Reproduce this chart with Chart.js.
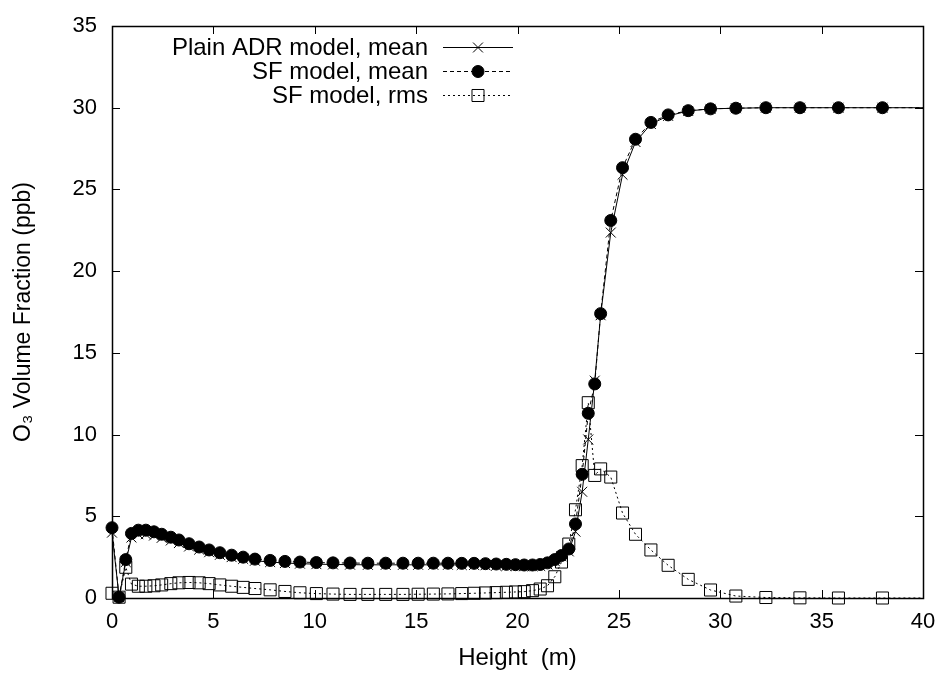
<!DOCTYPE html>
<html><head><meta charset="utf-8">
<script src="https://cdn.jsdelivr.net/npm/chart.js@4/dist/chart.umd.min.js"></script>
<style>html,body{margin:0;padding:0;background:#fff}</style>
</head><body>
<canvas id="c" width="948" height="687"></canvas>
<script>
// ---- data ----
const heights = [0, 0.35, 0.68, 0.96, 1.3, 1.67, 2.07, 2.45, 2.9, 3.3, 3.8, 4.3, 4.79, 5.32, 5.9, 6.47, 7.05,
  7.8, 8.53, 9.27, 10.08, 10.9, 11.74, 12.62, 13.5, 14.35, 15.1, 15.85, 16.57, 17.25, 17.86, 18.42, 18.95,
  19.45, 19.9, 20.33, 20.74, 21.12, 21.48, 21.84, 22.17, 22.53, 22.86, 23.19, 23.49, 23.81, 24.1, 24.6,
  25.18, 25.82, 26.58, 27.43, 28.42, 29.52, 30.77, 32.25, 33.93, 35.83, 38.0, 40];
const plainAdrMean = [4.0, 0.05, 2.2, 3.7, 3.9, 3.9, 3.82, 3.68, 3.52, 3.36, 3.15, 2.96, 2.8, 2.64, 2.5, 2.39, 2.28,
  2.2, 2.14, 2.1, 2.07, 2.05, 2.04, 2.03, 2.03, 2.03, 2.03, 2.03, 2.03, 2.02, 2.02, 2.0, 1.98,
  1.96, 1.95, 1.94, 1.94, 1.96, 2.05, 2.25, 2.55, 2.85, 4.06, 6.5, 9.7, 13.3, 17.3, 22.36,
  25.9, 27.9, 29.0, 29.5, 29.8, 29.93, 29.97, 30.0, 30.0, 30.0, 30.0, 30.0];
const sfMean = [4.3, 0.05, 2.35, 3.95, 4.15, 4.15, 4.05, 3.9, 3.72, 3.55, 3.32, 3.12, 2.94, 2.77, 2.62, 2.5, 2.38,
  2.3, 2.24, 2.2, 2.17, 2.15, 2.14, 2.13, 2.13, 2.13, 2.13, 2.13, 2.13, 2.12, 2.12, 2.1, 2.08,
  2.06, 2.04, 2.02, 2.02, 2.05, 2.15, 2.35, 2.6, 3.0, 4.53, 7.57, 11.3, 13.1, 17.4, 23.1,
  26.33, 28.07, 29.1, 29.56, 29.82, 29.93, 29.97, 30.0, 30.0, 30.0, 30.0, 30.0];
const sfRms = [0.29, 0.05, 1.88, 0.85, 0.72, 0.72, 0.75, 0.8, 0.88, 0.93, 0.95, 0.93, 0.88, 0.8, 0.72, 0.65, 0.58,
  0.5, 0.4, 0.32, 0.27, 0.24, 0.22, 0.22, 0.22, 0.22, 0.23, 0.24, 0.25, 0.27, 0.29, 0.31, 0.33,
  0.35, 0.37, 0.39, 0.45, 0.55, 0.75, 1.3, 2.2, 3.3, 5.4, 8.1, 11.95, 7.5, 7.9, 7.4,
  5.2, 3.9, 2.94, 2.0, 1.14, 0.49, 0.12, 0.03, 0.01, 0.0, 0.0, 0.0];
const seriesLabels = ['Plain ADR model, mean', 'SF model, mean', 'SF model, rms'];
const xTickValues = [0, 5, 10, 15, 20, 25, 30, 35, 40];
const yTickValues = [0, 5, 10, 15, 20, 25, 30, 35];
const xTitle = 'Height  (m)';
const yTitle = 'O\u2083 Volume Fraction (ppb)';

// ---- styles ----
const FONT = "'Liberation Sans', Arial, Helvetica, sans-serif";
const styles = [
  {pointStyle: 'crossRot', radius: 7, dash: [], fill: 'rgba(0,0,0,0)'},
  {pointStyle: 'circle', radius: 6, dash: [4, 3], fill: '#000'},
  {pointStyle: 'rect', radius: 8.5, dash: [2, 3], fill: 'rgba(0,0,0,0)'}
];
const seriesValues = [plainAdrMean, sfMean, sfRms];
const xMax = xTickValues[xTickValues.length - 1];

const datasets = seriesValues.map((vals, i) => ({
  label: seriesLabels[i],
  data: heights.map((h, k) => ({x: h, y: vals[k]})),
  borderColor: '#000',
  borderWidth: 1,
  borderDash: styles[i].dash,
  backgroundColor: styles[i].fill,
  pointStyle: styles[i].pointStyle,
  pointRadius: c => (c.raw && c.raw.x >= xMax ? 0 : styles[i].radius),
  pointBorderColor: '#000',
  pointBackgroundColor: styles[i].fill,
  pointBorderWidth: 1,
  tension: 0,
  clip: false,
  order: 2 - i
}));

const framePlugin = {
  id: 'frame',
  beforeDatasetsDraw(chart) {
    const {ctx, chartArea: a, scales: {x, y}} = chart;
    ctx.save();
    ctx.strokeStyle = '#000';
    ctx.lineWidth = 1;
    ctx.beginPath();
    const L = 8;
    xTickValues.forEach(v => {
      const px = Math.round(x.getPixelForValue(v)) + 0.5;
      ctx.moveTo(px, a.bottom); ctx.lineTo(px, a.bottom - L);
      ctx.moveTo(px, a.top); ctx.lineTo(px, a.top + L);
    });
    yTickValues.forEach(v => {
      const py = Math.round(y.getPixelForValue(v)) + 0.5;
      ctx.moveTo(a.left, py); ctx.lineTo(a.left + L, py);
      ctx.moveTo(a.right, py); ctx.lineTo(a.right - L, py);
    });
    ctx.stroke();
    ctx.lineWidth = 1.5;
    ctx.strokeRect(Math.round(a.left) + 0.5, Math.round(a.top) + 0.5,
      Math.round(a.right - a.left), Math.round(a.bottom - a.top));
    ctx.restore();
  },
  afterDraw(chart) {
    const ctx = chart.ctx;
    ctx.save();
    ctx.font = '24px ' + FONT;
    ctx.textAlign = 'right';
    ctx.textBaseline = 'middle';
    const textRight = 428, x0 = 443, x1 = 513, yStart = 47, step = 24;
    seriesLabels.forEach((lab, i) => {
      const yy = yStart + i * step;
      ctx.fillStyle = '#000';
      ctx.fillText(lab, textRight, yy + 1);
      ctx.strokeStyle = '#000';
      ctx.lineWidth = 1;
      ctx.setLineDash(styles[i].dash);
      ctx.beginPath(); ctx.moveTo(x0, yy + 0.5); ctx.lineTo(x1, yy + 0.5); ctx.stroke();
      ctx.setLineDash([]);
      ctx.fillStyle = styles[i].fill;
      ctx.strokeStyle = '#000';
      Chart.helpers.drawPoint(ctx, {pointStyle: styles[i].pointStyle, radius: styles[i].radius, rotation: 0, borderWidth: 1},
        (x0 + x1) / 2, yy + 0.5);
    });
    ctx.restore();
  }
};

new Chart(document.getElementById('c'), {
  type: 'line',
  data: {datasets},
  plugins: [framePlugin],
  options: {
    responsive: false,
    devicePixelRatio: 1,
    animation: false,
    layout: {padding: {left: 0, right: 25, top: 26, bottom: 0}},
    plugins: {legend: {display: false}, tooltip: {enabled: false}},
    scales: {
      x: {
        type: 'linear', min: 0, max: xMax,
        afterBuildTicks: s => { s.ticks = xTickValues.map(v => ({value: v})); },
        afterFit: s => { s.height = 89; },
        grid: {display: false},
        border: {display: false},
        ticks: {color: '#000', font: {family: FONT, size: 22}, padding: 3, maxRotation: 0},
        title: {display: true, text: xTitle, color: '#000', font: {family: FONT, size: 24}, padding: {top: 0, bottom: 14}}
      },
      y: {
        type: 'linear', min: 0, max: yTickValues[yTickValues.length - 1],
        afterBuildTicks: s => { s.ticks = yTickValues.map(v => ({value: v})); },
        afterFit: s => { s.width = 112; },
        grid: {display: false},
        border: {display: false},
        ticks: {color: '#000', font: {family: FONT, size: 22}, padding: 7},
        title: {display: true, text: yTitle, color: '#000', font: {family: FONT, size: 23}, padding: {top: 10, bottom: 0}}
      }
    }
  }
});
</script>
</body></html>
